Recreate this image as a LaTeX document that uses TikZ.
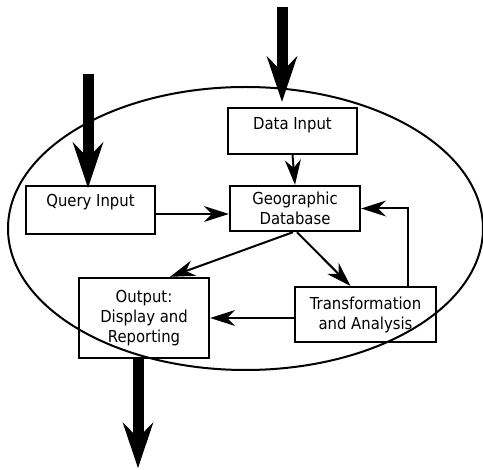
\documentclass[tikz,border=0pt]{standalone}
\usepackage{fontspec}
\setmainfont{DejaVu Sans}[FakeStretch=0.9]
\usetikzlibrary{arrows.meta}

\tikzset{
  box/.style={draw, line width=2.4pt, align=center, inner sep=0pt,
    minimum width=129pt, font=\fontsize{16.5}{20}\selectfont},
  onebox/.style={box, text height=22pt, text depth=24pt},
  flow/.style={line width=2pt, -{Stealth[length=25pt,width=16pt,inset=8pt,line width=1pt]}},
  bigflow/.style={line width=11pt, -{Stealth[length=46pt,width=31pt,inset=16pt,line width=0pt]}},
}

\begin{document}
\begin{tikzpicture}[x=1pt,y=1pt,yscale=-1]
\useasboundingbox (0,0) rectangle (483,470);

%Shape: Ellipse
\draw[line width=2pt] (245.5,228.5) ellipse [x radius=237.5, y radius=141.5];

% Text Node
\node[onebox] (datain) at (292.5,131) {Data Input};
% Text Node
\node[onebox, text height=21pt, text depth=27pt] (query) at (90.5,210) {Query Input};
% Text Node
\node[box, minimum width=130pt, minimum height=45pt] (geo) at (295,208.5) {Geographic\\Database};
% Text Node
\node[box, minimum width=130pt, minimum height=80pt] (output) at (144,318) {Output:\\Display and\\Reporting};
% Text Node
\node[box, minimum width=141pt, minimum height=55pt, line width=2pt] (transf) at (365.5,314.5) {Transformation\\and Analysis};

%Free ends of the big arrows
\coordinate (datatop) at (282,7);
\coordinate (querytop) at (88,74);
\coordinate (outbot) at (138,468);

%Straight Lines
\draw[flow] (datain.south) -- (geo.north);
\draw[flow] ([yshift=4]query.east) -- ([yshift=4]query.east -| geo.west);
\draw[flow] ([xshift=-2]geo.south) -- ([xshift=26]output.north);
\draw[flow] ([xshift=2]geo.south) -- ([xshift=-15]transf.north);
\draw[flow] ([yshift=3.5]transf.west) -- ([yshift=3.5]transf.west -| output.east);
\draw[flow] ([xshift=42.5]transf.north) |- (geo.east);

%Big arrows
\draw[bigflow] (datatop) -- ([yshift=-5]datain.north -| datatop);
\draw[bigflow] (querytop) -- ([yshift=3]query.north -| querytop);
\draw[bigflow] (output.south -| outbot) -- (outbot);

\end{tikzpicture}
\end{document}
